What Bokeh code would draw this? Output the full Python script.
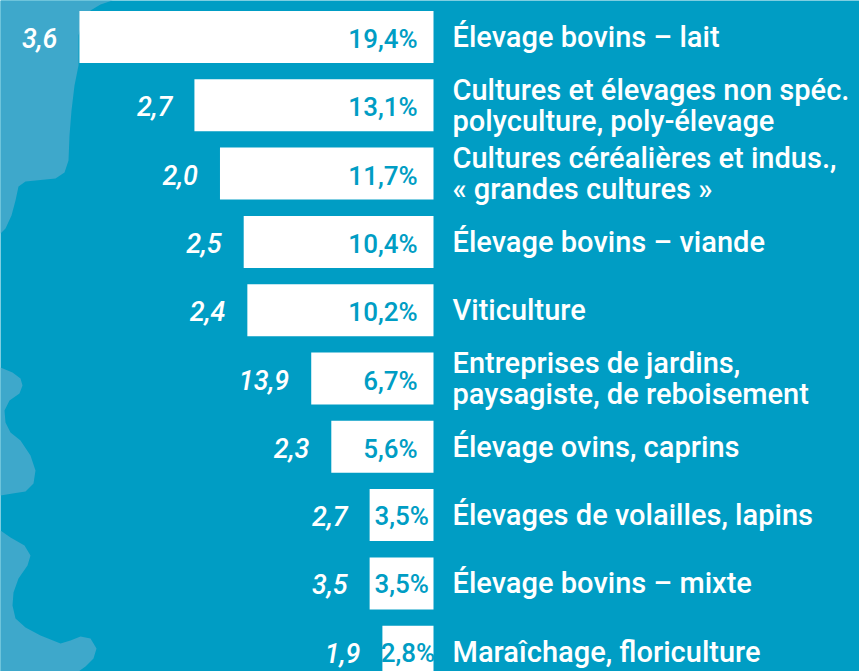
import numpy as np
from bokeh.plotting import figure
from bokeh.models import ColumnDataSource, Range1d
from bokeh.core.properties import value
from bokeh.embed import file_html
from bokeh.resources import INLINE

# ---------------- data ----------------
categories = [
    "Élevage bovins – lait",
    "Cultures et élevages non spéc.\npolyculture, poly-élevage",
    "Cultures céréalières et indus.,\n« grandes cultures »",
    "Élevage bovins – viande",
    "Viticulture",
    "Entreprises de jardins,\npaysagiste, de reboisement",
    "Élevage ovins, caprins",
    "Élevages de volailles, lapins",
    "Élevage bovins – mixte",
    "Maraîchage, floriculture",
]
shares = [19.4, 13.1, 11.7, 10.4, 10.2, 6.7, 5.6, 3.5, 3.5, 2.8]
share_labels = ["19,4%", "13,1%", "11,7%", "10,4%", "10,2%", "6,7%", "5,6%", "3,5%", "3,5%", "2,8%"]
side_values = [3.6, 2.7, 2.0, 2.5, 2.4, 13.9, 2.3, 2.7, 3.5, 1.9]
side_labels = ["3,6", "2,7", "2,0", "2,5", "2,4", "13,9", "2,3", "2,7", "3,5", "1,9"]

# ---------------- layout ----------------
W, H = 859, 671
PX = 18.25          # pixels per percentage point
X0 = 433            # pixel position of bars' right edge
ROW = 68.3          # pixels per row
Y0 = 36.5           # pixel centre of first row

BG = "#009dc4"
LIGHT = "#3ea8cb"
FONT = "'Roboto Medium', Roboto"

n = len(categories)
rows = np.arange(n)

p = figure(width=W, height=H, output_backend="svg", toolbar_location=None,
           x_range=Range1d(-X0 / PX, (W - X0) / PX),
           y_range=Range1d((H - Y0) / ROW, -Y0 / ROW),
           x_axis_type=None, y_axis_type=None, min_border=0)
p.background_fill_color = BG
p.border_fill_color = BG
p.outline_line_color = None
p.xgrid.visible = False
p.ygrid.visible = False

# decorative lighter shapes on the left edge (pixel outlines -> data space)
blobs_px = [
    [(0, 0), (112, 0), (100, 4), (90, 10), (82, 20), (78, 35), (78, 65), (74, 85), (71, 110),
     (69, 135), (68, 160), (64, 172), (55, 178), (25, 181), (18, 186), (15, 200), (11, 215),
     (5, 228), (0, 233)],
    [(0, 367), (12, 372), (20, 378), (22, 385), (19, 393), (9, 400), (4, 410), (5, 422),
     (10, 432), (20, 440), (30, 455), (35, 470), (33, 483), (25, 491), (12, 493), (0, 495)],
    [(0, 530), (10, 537), (24, 545), (30, 555), (27, 565), (18, 578), (13, 592), (12, 605),
     (15, 618), (25, 627), (40, 635), (60, 643), (70, 640), (80, 636), (90, 638), (96, 648),
     (93, 658), (85, 666), (78, 671), (0, 671)],
]
for b in blobs_px:
    xs = [(px - X0) / PX for px, _ in b]
    ys = [(py - Y0) / ROW for _, py in b]
    p.patch(xs, ys, fill_color=LIGHT, line_color=None)

src = ColumnDataSource(dict(
    y=rows,
    left=[-v for v in shares],
    right=[0] * n,
    cat=categories,
    share_lab=share_labels,
    side_lab=side_labels,
))

p.hbar(y="y", left="left", right="right", height=52 / ROW, source=src,
       fill_color="white", line_color=None)

# share labels: right-aligned inside bar if it fits, otherwise centred
fit = [s * PX > 90 for s in shares]
src_in = ColumnDataSource(dict(
    y=[r for r, f in zip(rows, fit) if f],
    x=[0] * sum(fit),
    t=[l for l, f in zip(share_labels, fit) if f]))
src_c = ColumnDataSource(dict(
    y=[r for r, f in zip(rows, fit) if not f],
    x=[-s / 2 for s, f in zip(shares, fit) if not f],
    t=[l for l, f in zip(share_labels, fit) if not f]))
p.text(x="x", y="y", text="t", source=src_in, x_offset=-16, y_offset=2,
       text_font=value(FONT), text_font_size="26px", text_color=BG,
       text_align="right", text_baseline="middle")
p.text(x="x", y="y", text="t", source=src_c, y_offset=1,
       text_font=value(FONT), text_font_size="26px", text_color=BG,
       text_align="center", text_baseline="middle")

# italic side numbers to the left of bars
p.text(x="left", y="y", text="side_lab", source=src, x_offset=-22, y_offset=1,
       text_font=value(FONT), text_font_style="italic", text_font_size="27px",
       text_color="white", text_align="right", text_baseline="middle")

# category labels
p.text(x="right", y="y", text="cat", source=src, x_offset=19, y_offset=0,
       text_font=value(FONT), text_font_size="29px", text_color="white",
       text_align="left", text_baseline="middle", text_line_height=0.9)

open("out.html", "w").write(file_html(p, INLINE))
